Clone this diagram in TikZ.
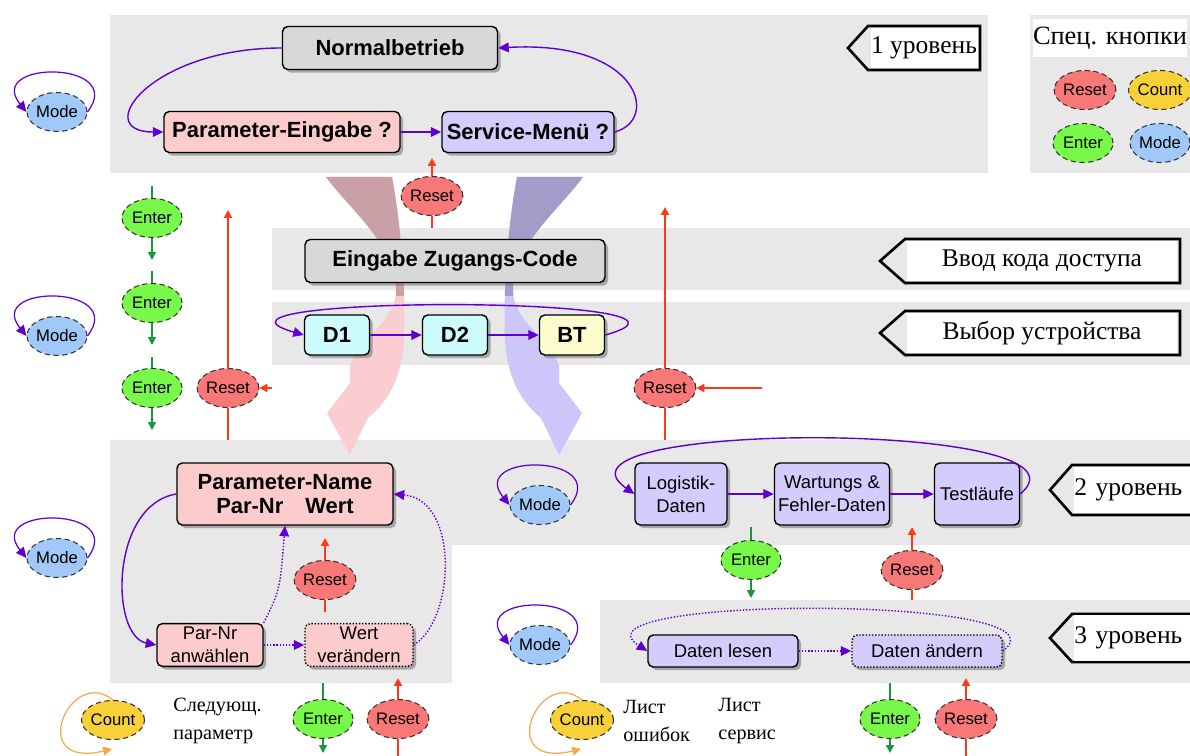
\documentclass[tikz,border=0pt]{standalone}
\usepackage{fontspec}
\setmainfont{Liberation Serif}
\setsansfont{Liberation Sans}
\usetikzlibrary{positioning,shapes.geometric,arrows.meta,shadows}

\definecolor{bandgray}{RGB}{232,232,232}
\definecolor{boxgray}{RGB}{216,216,216}
\definecolor{boxpink}{RGB}{252,204,204}
\definecolor{boxlav}{RGB}{212,204,252}
\definecolor{boxcyan}{RGB}{204,252,252}
\definecolor{boxyellow}{RGB}{252,252,204}
\definecolor{btnreset}{RGB}{248,120,120}
\definecolor{btncount}{RGB}{248,208,56}
\definecolor{btnenter}{RGB}{120,248,72}
\definecolor{btnmode}{RGB}{160,200,248}
\definecolor{flowpurple}{RGB}{96,0,208}
\definecolor{resetred}{RGB}{255,56,24}
\definecolor{entergreen}{RGB}{24,152,56}
\definecolor{countorange}{RGB}{248,168,72}
\definecolor{ribpinkdark}{RGB}{200,160,165}
\definecolor{ribpink}{RGB}{250,205,208}
\definecolor{riblavdark}{RGB}{165,155,200}
\definecolor{riblav}{RGB}{205,198,250}

\tikzset{
  box/.style={draw, rounded corners=3pt, line width=0.8pt, align=center, inner sep=2pt,
    font=\sffamily\bfseries\fontsize{12.5}{14}\selectfont,
    drop shadow={shadow xshift=1.8pt, shadow yshift=-1.8pt, fill=black!60}},
  smallbox/.style={box, font=\sffamily\fontsize{10.5}{13}\selectfont},
  dotbox/.style={smallbox, densely dotted},
  btn/.style={ellipse, draw=black!80, densely dashed, line width=0.6pt, inner sep=0pt,
    minimum width=1.2cm, minimum height=0.78cm, font=\sffamily\fontsize{9.5}{11}\selectfont},
  resetbtn/.style={btn, fill=btnreset},
  countbtn/.style={btn, fill=btncount},
  enterbtn/.style={btn, fill=btnenter},
  modebtn/.style={btn, fill=btnmode},
  flow/.style={draw=flowpurple, line width=0.8pt, -{Triangle[length=6pt,width=5.5pt]}},
  dotflow/.style={flow, densely dotted},
  modeloop/.style={flow, line width=0.7pt},
  resetarr/.style={draw=resetred, line width=1.1pt, -{Triangle[length=4.5pt,width=4.5pt]}},
  resetline/.style={draw=resetred, line width=1.1pt},
  enterarr/.style={draw=entergreen, line width=0.8pt, -{Triangle[length=4.5pt,width=4.5pt]}},
  enterline/.style={draw=entergreen, line width=0.8pt},
  countloop/.style={draw=countorange, line width=0.7pt, -{Triangle[length=5pt,width=5pt]}},
  tagedge/.style={draw=black, line width=1.5pt, line join=miter},
  taglabel/.style={fill=white, inner sep=0pt, font=\fontsize{14.5}{16}\selectfont},
  note/.style={inner sep=0pt, align=left, font=\fontsize{11.5}{15.5}\selectfont}
}

\begin{document}
\begin{tikzpicture}[x=0.02cm, y=-0.02cm]
  \useasboundingbox (0,0) rectangle (1190,756);
  \clip (0,0) rectangle (1190,756);
  \fill[white] (0,0) rectangle (1190,756);

  % bands
  \fill[bandgray] (110,15) rectangle (988,173);
  \fill[bandgray] (1030,15) rectangle (1190,173);
  \fill[bandgray] (272,228) rectangle (1190,290);
  \fill[bandgray] (272,302) rectangle (1190,365);
  \fill[bandgray] (110,440) -- (1190,440) -- (1190,545) -- (452,545) -- (452,683) -- (110,683) -- cycle;
  \fill[bandgray] (600,600) rectangle (1190,683);

  % big arrows
  \fill[ribpink] (326,177) -- (392,177) .. controls (402,230) and (406,300) .. (404,340) .. controls (402,375) and (390,400) .. (368,418) -- (350,455) -- (327,413) -- (350,383) -- (350,365) .. controls (360,340) and (395,320) .. (396,292) .. controls (396,245) and (352,212) .. (326,177) -- cycle;
  \begin{scope}
    \clip (300,170) rectangle (420,296);
    \fill[ribpinkdark] (326,177) -- (392,177) .. controls (402,230) and (406,300) .. (404,340) -- (396,340) -- (396,292) .. controls (396,245) and (352,212) .. (326,177) -- cycle;
  \end{scope}
  \fill[riblav] (583,177) -- (517,177) .. controls (507,230) and (503,300) .. (505,340) .. controls (507,375) and (519,400) .. (541,418) -- (559,455) -- (582,413) -- (559,383) -- (559,365) .. controls (549,340) and (514,320) .. (513,292) .. controls (513,245) and (557,212) .. (583,177) -- cycle;
  \begin{scope}
    \clip (489,170) rectangle (609,296);
    \fill[riblavdark] (583,177) -- (517,177) .. controls (507,230) and (503,300) .. (505,340) -- (513,340) -- (513,292) .. controls (513,245) and (557,212) .. (583,177) -- cycle;
  \end{scope}

  % level 1
  \node[box, fill=boxgray, minimum width=4.3cm, minimum height=0.86cm] (norm) at (390,48) {Normalbetrieb};
  \node[box, fill=boxpink, minimum width=4.72cm, minimum height=0.82cm] (pein) at (282,132) {Parameter-Eingabe ?};
  \node[box, fill=boxlav, minimum width=3.44cm, minimum height=0.82cm] (smenu) at (528,132) {Service-Menü ?};

  \draw[flow] (norm.west) .. controls (150,48) and (90,132) .. (pein.west);
  \draw[flow] (pein) -- (smenu);
  \draw[flow] (smenu.east) .. controls (660,120) and (640,40) .. (norm.east);

  % access code and device
  \node[box, fill=boxgray, minimum width=6cm, minimum height=0.86cm] (zcode) at (455,261) {Eingabe Zugangs-Code};
  \node[box, fill=boxcyan, minimum width=1.3cm, minimum height=0.8cm] (d1) at (337,335) {D1};
  \node[box, fill=boxcyan, minimum width=1.3cm, minimum height=0.8cm] (d2) at (455,335) {D2};
  \node[box, fill=boxyellow, minimum width=1.3cm, minimum height=0.8cm] (bt) at (572,335) {BT};

  \draw[flow] (d1) -- (d2);
  \draw[flow] (d2) -- (bt);
  \draw[flow] (bt.east) .. controls (750,295) and (165,295) .. (d1.west);

  % level 2, left
  \node[box, fill=boxpink, minimum width=4.32cm, minimum height=1.24cm] (pname) at (285,494) {Parameter-Name\\Par-Nr\quad Wert};
  \node[smallbox, fill=boxpink, minimum width=2.12cm, minimum height=0.84cm] (pnr) at (210,645) {Par-Nr\\anwählen};
  \node[dotbox, fill=boxpink, minimum width=2.16cm, minimum height=0.84cm] (wert) at (359,645) {Wert\\verändern};

  \draw[flow] (pname.west) .. controls (110,505) and (110,636) .. (pnr.west);
  \draw[dotflow] (pnr) -- (wert);
  \draw[dotflow] (pnr.north east) .. controls (280,590) .. (pname.south);
  \draw[dotflow] (wert.east) .. controls (455,620) and (460,500) .. (pname.east);

  % level 2, right
  \node[smallbox, fill=boxlav, minimum width=1.84cm, minimum height=1.24cm] (logi) at (681,494) {Logistik-\\Daten};
  \node[smallbox, fill=boxlav, minimum width=2.3cm, minimum height=1.24cm] (wart) at (832,494) {Wartungs \&\\Fehler-Daten};
  \node[smallbox, fill=boxlav, minimum width=1.7cm, minimum height=1.24cm] (test) at (977,494) {Testläufe};

  \draw[flow] (logi) -- (wart);
  \draw[flow] (wart) -- (test);
  \draw[flow] (test.east) .. controls (1110,420) and (530,420) .. (logi.west);

  % level 3
  \node[smallbox, fill=boxlav, minimum width=3cm, minimum height=0.64cm] (dlesen) at (723,651) {Daten lesen};
  \node[dotbox, fill=boxlav, minimum width=3cm, minimum height=0.64cm] (daend) at (927,651) {Daten ändern};

  \draw[dotflow] (dlesen) -- (daend);
  \draw[dotflow] (daend.east) .. controls (1080,595) and (560,595) .. (dlesen.west);

  % mode keys
  \node[modebtn] (mode1) at (57,112) {Mode};
  \node[modebtn] (mode2) at (57,336) {Mode};
  \node[modebtn] (mode3) at (57,558) {Mode};
  \node[modebtn] (mode4) at (540,505) {Mode};
  \node[modebtn] (mode5) at (540,645) {Mode};
  \draw[modeloop] (mode1.east) .. controls +(40,-52) and +(-42,-52) .. (mode1.west);
  \draw[modeloop] (mode2.east) .. controls +(40,-52) and +(-42,-52) .. (mode2.west);
  \draw[modeloop] (mode3.east) .. controls +(40,-52) and +(-42,-52) .. (mode3.west);
  \draw[modeloop] (mode4.east) .. controls +(40,-52) and +(-42,-52) .. (mode4.west);
  \draw[modeloop] (mode5.east) .. controls +(40,-52) and +(-42,-52) .. (mode5.west);

  % enter keys
  \node[enterbtn] (en1) at (152,218) {Enter};
  \node[enterbtn] (en2) at (152,303) {Enter};
  \node[enterbtn] (en3) at (152,388) {Enter};
  \node[enterbtn] (en4) at (751,560) {Enter};
  \node[enterbtn] (en5) at (323,719) {Enter};
  \node[enterbtn] (en6) at (890,719) {Enter};
  \coordinate (en1in) at (152,186); \coordinate (en1out) at (152,260);
  \coordinate (en2in) at (152,271); \coordinate (en2out) at (152,345);
  \coordinate (en3in) at (152,357); \coordinate (en3out) at (152,430);
  \coordinate (en4in) at (751,527); \coordinate (en4out) at (751,598);
  \coordinate (en5in) at (323,683); \coordinate (en5out) at (323,753);
  \coordinate (en6in) at (890,683); \coordinate (en6out) at (890,753);
  \draw[enterline] (en1in) -- (en1); \draw[enterarr] (en1) -- (en1out);
  \draw[enterline] (en2in) -- (en2); \draw[enterarr] (en2) -- (en2out);
  \draw[enterline] (en3in) -- (en3); \draw[enterarr] (en3) -- (en3out);
  \draw[enterline] (en4in) -- (en4); \draw[enterarr] (en4) -- (en4out);
  \draw[enterline] (en5in) -- (en5); \draw[enterarr] (en5) -- (en5out);
  \draw[enterline] (en6in) -- (en6); \draw[enterarr] (en6) -- (en6out);

  % reset keys
  \node[resetbtn] (rs1) at (432,196) {Reset};
  \node[resetbtn] (rs2) at (228,388) {Reset};
  \node[resetbtn] (rs3) at (665,388) {Reset};
  \node[resetbtn] (rs4) at (325,580) {Reset};
  \node[resetbtn] (rs5) at (912,570) {Reset};
  \node[resetbtn] (rs6) at (398,719) {Reset};
  \node[resetbtn] (rs7) at (966,719) {Reset};
  \coordinate (rs1up) at (432,158); \coordinate (rs1dn) at (432,228);
  \coordinate (rs2up) at (228,210); \coordinate (rs2dn) at (228,440); \coordinate (rs2in) at (272,388);
  \coordinate (rs3up) at (665,207); \coordinate (rs3dn) at (665,440); \coordinate (rs3in) at (762,388);
  \coordinate (rs4up) at (325,538); \coordinate (rs4dn) at (325,612);
  \coordinate (rs5up) at (912,527); \coordinate (rs5dn) at (912,600);
  \coordinate (rs6up) at (398,678); \coordinate (rs6dn) at (398,756);
  \coordinate (rs7up) at (966,678); \coordinate (rs7dn) at (966,756);
  \draw[resetline] (rs1dn) -- (rs1); \draw[resetarr] (rs1) -- (rs1up);
  \draw[resetline] (rs2dn) -- (rs2); \draw[resetarr] (rs2) -- (rs2up); \draw[resetarr] (rs2in) -- (rs2);
  \draw[resetline] (rs3dn) -- (rs3); \draw[resetarr] (rs3) -- (rs3up); \draw[resetarr] (rs3in) -- (rs3);
  \draw[resetline] (rs4dn) -- (rs4); \draw[resetarr] (rs4) -- (rs4up);
  \draw[resetline] (rs5dn) -- (rs5); \draw[resetarr] (rs5) -- (rs5up);
  \draw[resetline] (rs6dn) -- (rs6); \draw[resetarr] (rs6) -- (rs6up);
  \draw[resetline] (rs7dn) -- (rs7); \draw[resetarr] (rs7) -- (rs7up);

  % count keys
  \node[countbtn] (ct1) at (113,720) {Count};
  \node[countbtn] (ct2) at (582,720) {Count};
  \coordinate (ct1end) at (112,749);
  \coordinate (ct2end) at (581,749);
  \draw[countloop] (ct1.north) .. controls +(-43,-35) and +(-87,21) .. (ct1end);
  \draw[countloop] (ct2.north) .. controls +(-43,-35) and +(-87,21) .. (ct2end);
  \node[note, anchor=west] (nxt) at (173,721) {Следующ.\\параметр};
  \node[note, anchor=west] (errl) at (623,721) {Лист\\ошибок};
  \node[note, anchor=west] (srvl) at (718,721) {Лист\\сервис};

  % special keys
  \node[fill=white, minimum width=3.1cm, minimum height=0.76cm, inner sep=0pt, font=\fontsize{15}{17}\selectfont] (spec) at (1110,38) {Спец. кнопки};
  \node[resetbtn] (kreset) at (1085,90) {Reset};
  \node[countbtn] (kcount) at (1160,90) {Count};
  \node[enterbtn] (kenter) at (1083,143) {Enter};
  \node[modebtn] (kmode) at (1160,143) {Mode};

  % level tags
  \draw[tagedge] (848,48) -- (868,26) -- (980,26) -- (980,70) -- (868,70) -- cycle;
  \node[taglabel, minimum width=2.14cm, minimum height=0.8cm] (lvl1) at (924,48) {1 уровень};
  \draw[tagedge] (880,261) -- (905,239) -- (1180,239) -- (1180,283) -- (905,283) -- cycle;
  \node[taglabel, minimum width=5.42cm, minimum height=0.8cm] (lvlcode) at (1042,261) {Ввод кода доступа};
  \draw[tagedge] (880,333) -- (905,311) -- (1180,311) -- (1180,355) -- (905,355) -- cycle;
  \node[taglabel, minimum width=5.42cm, minimum height=0.8cm] (lvldev) at (1042,333) {Выбор устройства};
  \draw[tagedge] (1050,490) -- (1072,465) -- (1200,465) -- (1200,515) -- (1072,515) -- cycle;
  \node[taglabel, anchor=west, text width=2.34cm, minimum height=0.92cm] (lvl2) at (1074,490) {2 уровень};
  \draw[tagedge] (1050,638) -- (1072,614) -- (1200,614) -- (1200,662) -- (1072,662) -- cycle;
  \node[taglabel, anchor=west, text width=2.34cm, minimum height=0.92cm] (lvl3) at (1074,638) {3 уровень};
\end{tikzpicture}
\end{document}
